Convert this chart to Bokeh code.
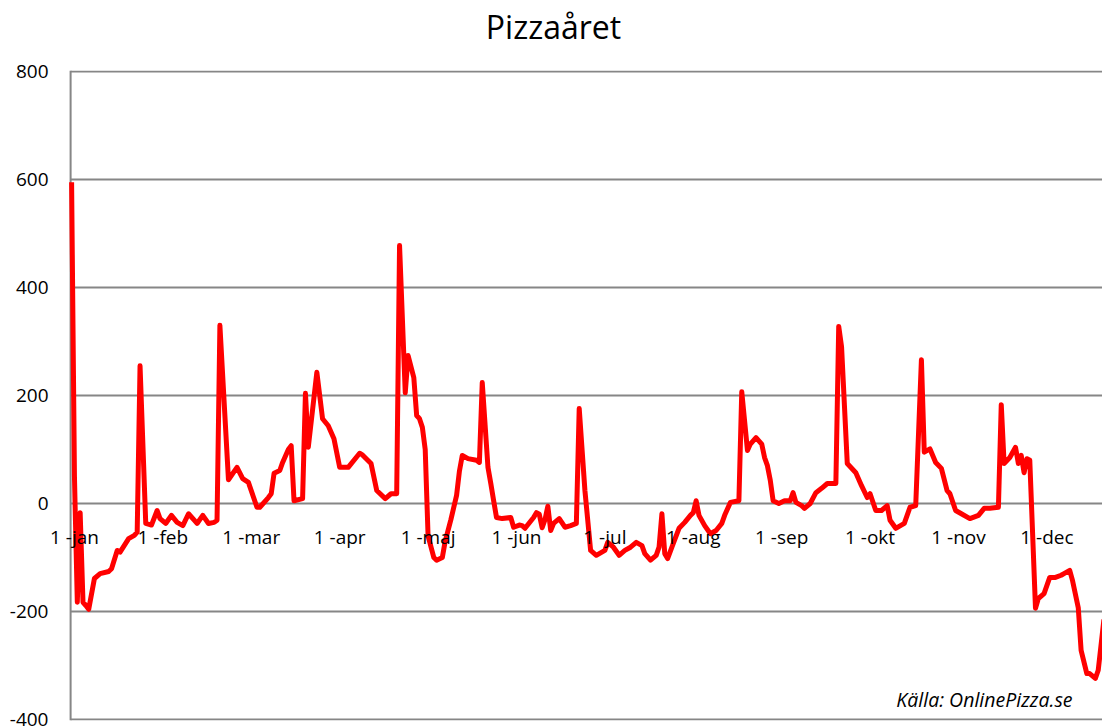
from bokeh.plotting import figure
from bokeh.models import FixedTicker, Label, Range1d, LinearAxis, Span
from bokeh.embed import file_html
from bokeh.resources import INLINE

title = "Pizzaåret"
source_note = "Källa: OnlinePizza.se"

# day of year (0 = 1 jan) and daily value
days = [0, 1, 2, 3, 4, 5, 6, 8, 10, 13, 14, 16, 17, 20, 22, 23, 24, 26, 28, 30,
        31, 33, 35, 37, 39, 41, 43, 44, 46, 48, 50, 51, 52, 55, 58, 60, 62, 65, 66, 69,
        70, 71, 73, 74, 76, 77, 78, 81, 82, 83, 86, 88, 90, 92, 94, 97, 101, 102, 105, 107,
        110, 112, 114, 115, 117, 118, 120, 121, 122, 123, 124, 125, 127, 128, 130, 131, 133, 135, 136, 137,
        139, 142, 143, 144, 146, 147, 148, 149, 151, 154, 155, 157, 158, 159, 162, 163, 164, 165, 166, 167,
        168, 169, 171, 173, 175, 177, 178, 180, 182, 184, 187, 188, 190, 192, 194, 196, 198, 200, 201, 203,
        205, 206, 207, 208, 209, 211, 213, 215, 217, 218, 219, 220, 222, 224, 226, 228, 229, 231, 234, 235,
        237, 238, 240, 242, 243, 244, 245, 246, 248, 250, 252, 253, 254, 256, 257, 259, 261, 263, 265, 267,
        268, 269, 270, 272, 275, 277, 279, 280, 282, 284, 286, 287, 289, 292, 294, 296, 298, 299, 301, 303,
        305, 307, 308, 310, 312, 315, 318, 320, 322, 325, 326, 327, 329, 331, 332, 333, 334, 335, 336, 338,
        339, 341, 343, 345, 347, 348, 350, 351, 353, 354, 356, 357, 359, 360, 362]
values = [595, 50, -183, -17, -183, -189, -196, -139, -130, -126, -121, -87, -90, -65, -59, -53, 255, -37, -40, -13,
          -28, -37, -22, -35, -41, -19, -31, -37, -22, -37, -35, -31, 330, 44, 67, 46, 39, -7, -7, 11,
          18, 56, 61, 76, 100, 107, 5, 9, 204, 104, 243, 157, 144, 120, 67, 67, 93, 90, 74, 24,
          9, 18, 18, 478, 205, 274, 233, 163, 157, 141, 100, -60, -100, -105, -100, -70, -30, 15, 60, 89,
          83, 80, 76, 224, 67, 37, 5, -26, -28, -26, -44, -40, -41, -46, -26, -17, -20, -45, -30, -5,
          -50, -37, -28, -44, -41, -37, 176, 24, -87, -96, -87, -72, -81, -96, -87, -81, -72, -78, -93, -105,
          -96, -81, -19, -93, -102, -74, -46, -35, -22, -17, 5, -22, -41, -56, -50, -37, -22, 2, 5, 207,
          98, 110, 122, 110, 85, 70, 43, 5, 0, 5, 5, 20, 2, -4, -9, 0, 20, 28, 37, 37,
          37, 328, 290, 74, 57, 33, 11, 18, -13, -13, -4, -31, -46, -37, -7, -4, 266, 95, 101, 76,
          65, 24, 18, -13, -19, -28, -22, -9, -9, -7, 183, 74, 85, 104, 74, 89, 57, 83, 80, -194,
          -176, -167, -137, -137, -133, -130, -124, -143, -193, -272, -315, -315, -324, -309, -215]

month_days = [1, 32, 63, 94, 125, 156, 187, 218, 249, 280, 311, 342]
month_labels = ["1 -jan", "1 -feb", "1 -mar", "1 -apr", "1 -maj", "1 -jun",
                "1 -jul", "1 -aug", "1 -sep", "1 -okt", "1 -nov", "1 -dec"]
y_ticks = [-400, -200, 0, 200, 400, 600, 800]

FONT = "Open Sans"
GRID = "#868686"
X_START, X_END = -0.35, 361.5   # where the value axis sits / right edge
LEFT_PAD = 7.4                  # room left of the value axis for the "1 -jan" label
TITLE_X = 169                   # horizontal centre of the title, in x units

p = figure(width=1102, height=726, output_backend="svg", toolbar_location=None,
           x_range=Range1d(X_START - LEFT_PAD, X_END), y_range=Range1d(-402, 802),
           min_border_left=49, min_border_right=0, min_border_top=70, min_border_bottom=6)

p.outline_line_color = None
p.background_fill_color = "white"
p.border_fill_color = "white"
p.xgrid.grid_line_color = None
p.ygrid.grid_line_color = None


def plain_axis(ax, size):
    ax.axis_line_color = None
    ax.major_tick_line_color = None
    ax.minor_tick_line_color = None
    ax.major_tick_out = 0
    ax.major_tick_in = 0
    ax.minor_tick_out = 0
    ax.minor_tick_in = 0
    ax.major_label_text_font = FONT
    ax.major_label_text_font_size = size
    ax.major_label_text_color = "black"


# y axis labels
plain_axis(p.yaxis[0], "19px")
p.yaxis.ticker = FixedTicker(ticks=y_ticks)
p.yaxis.major_label_overrides = {t: str(t) for t in y_ticks}
p.yaxis.major_label_standoff = 1

# horizontal gridlines and the value axis line
p.segment(x0=X_START, x1=X_END + 5, y0=y_ticks, y1=y_ticks, line_color=GRID, line_width=2)
p.add_layout(Span(location=X_START, dimension="height", line_color=GRID, line_width=2,
                  level="underlay"))

# x axis crossing at y = 0
plain_axis(p.xaxis[0], "19px")
p.xaxis.fixed_location = 0
p.xaxis.ticker = FixedTicker(ticks=month_days)
p.xaxis.major_label_overrides = dict(zip(month_days, month_labels))
p.xaxis.major_label_standoff = 21

# chart title, written as the single label of a top axis
title_axis = LinearAxis(ticker=FixedTicker(ticks=[TITLE_X]),
                        major_label_overrides={TITLE_X: title})
plain_axis(title_axis, "32px")
title_axis.major_label_standoff = 23
title_axis.major_label_text_baseline = "bottom"
p.add_layout(title_axis, "above")

p.line(days, values, line_color="#FF0000", line_width=5, line_join="round")

p.add_layout(Label(x=1023, y=21, x_units="screen", y_units="screen", text=source_note,
                   text_align="right", text_baseline="middle", text_font=FONT,
                   text_font_style="italic", text_font_size="19.5px", text_color="black"))

open("out.html", "w").write(file_html(p, INLINE))
